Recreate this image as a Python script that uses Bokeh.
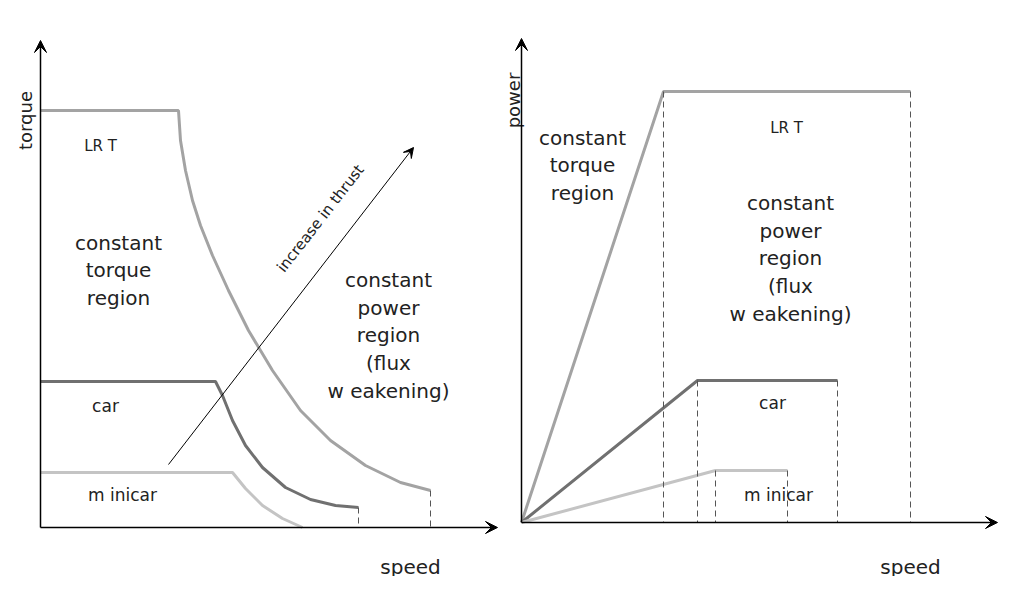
from bokeh.plotting import figure
from bokeh.models import Range1d, Arrow, VeeHead
from bokeh.core.properties import value
from bokeh.embed import file_html
from bokeh.resources import INLINE

# curve points (screen-like units, y grows downward)
lrt_x = [40, 178, 180, 185, 192, 200, 212, 228, 248, 272, 300, 330, 365, 400, 430]
lrt_y = [110, 110, 140, 170, 200, 225, 255, 290, 330, 370, 410, 440, 465, 482, 490]
car_x = [40, 215, 222, 232, 245, 262, 285, 310, 335, 358]
car_y = [381, 381, 395, 420, 445, 467, 487, 499, 505, 507]
mini_x = [40, 232, 245, 262, 282, 302]
mini_y = [472, 472, 488, 505, 518, 527]

p_lrt_x = [521, 663, 910]
p_lrt_y = [522, 91, 91]
p_car_x = [521, 697, 837]
p_car_y = [522, 380, 380]
p_mini_x = [521, 715, 787]
p_mini_y = [522, 470, 470]

c_lrt, c_car, c_mini = "#a3a3a3", "#707070", "#c4c4c4"
font = value("DejaVu Sans")

p = figure(width=998, height=576, output_backend="svg", toolbar_location=None,
           x_range=Range1d(0, 998), y_range=Range1d(576, 0), min_border=0)
p.axis.visible = False
p.grid.visible = False
p.outline_line_color = None

# axes with arrowheads
for x0, y0, x1, y1 in [(40, 527, 40, 40), (40, 527, 497, 527),
                       (521, 522, 521, 38), (521, 522, 997, 522)]:
    p.add_layout(Arrow(end=VeeHead(size=12, fill_color="black", line_color="black"),
                       x_start=x0, y_start=y0, x_end=x1, y_end=y1, line_width=1.5))

# left: torque curves
p.line(lrt_x, lrt_y, line_color=c_lrt, line_width=3)
p.line(car_x, car_y, line_color=c_car, line_width=3)
p.line(mini_x, mini_y, line_color=c_mini, line_width=3)
p.line([lrt_x[-1]] * 2, [lrt_y[-1], 527], line_color="#555555", line_dash="6 4")
p.line([car_x[-1]] * 2, [car_y[-1], 527], line_color="#555555", line_dash="6 4")
p.add_layout(Arrow(end=VeeHead(size=10, fill_color="black", line_color="black"),
                   x_start=168, y_start=464, x_end=413, y_end=147, line_width=1))

# right: power curves
p.line(p_lrt_x, p_lrt_y, line_color=c_lrt, line_width=3)
p.line(p_car_x, p_car_y, line_color=c_car, line_width=3)
p.line(p_mini_x, p_mini_y, line_color=c_mini, line_width=3)
for xs, ys in [(p_lrt_x, p_lrt_y), (p_car_x, p_car_y), (p_mini_x, p_mini_y)]:
    for x in xs[1:]:
        p.line([x, x], [ys[1], 522], line_color="#555555", line_dash="6 4")

labels = [
    (25, 120, "torque", 1.5708, 18),
    (100, 145, "LR T", 0, 15),
    (118, 270, "constant\ntorque\nregion", 0, 20),
    (105, 405, "car", 0, 17),
    (122, 494, "m inicar", 0, 17),
    (388, 335, "constant\npower\nregion\n(flux\nw eakening)", 0, 20),
    (320, 218, "increase in thrust", 0.91, 15),
    (410, 566, "speed", 0, 20),
    (513, 100, "power", 1.5708, 18),
    (582, 165, "constant\ntorque\nregion", 0, 20),
    (786, 127, "LR T", 0, 15),
    (790, 258, "constant\npower\nregion\n(flux\nw eakening)", 0, 20),
    (772, 402, "car", 0, 17),
    (778, 494, "m inicar", 0, 17),
    (910, 566, "speed", 0, 20),
]
for x, y, t, a, s in labels:
    p.text([x], [y], text=[t], angle=a, text_align="center", text_baseline="middle",
           text_font=font, text_font_size=f"{s}px", text_color="#222222",
           text_line_height=1.15)

open("out.html", "w").write(file_html(p, INLINE))
